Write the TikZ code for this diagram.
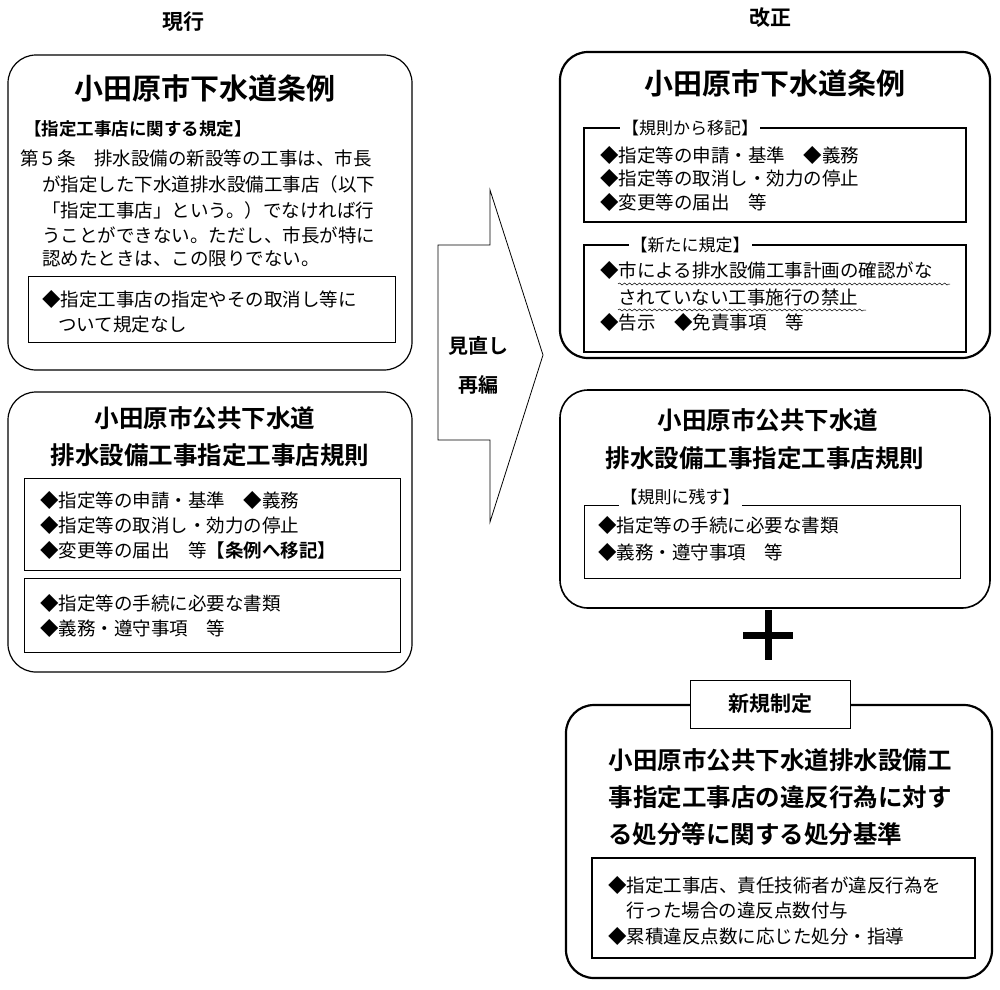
\documentclass[tikz,border=0pt]{standalone}
\usepackage{fontspec}
\setmainfont{Noto Sans CJK JP}
\newfontfamily\jpb{Noto Sans CJK JP Bold}
\usetikzlibrary{decorations.pathmorphing}
\tikzset{
 bigbox/.style={draw,rounded corners=28pt,line width=1.2pt},
 bigboxb/.style={draw,rounded corners=28pt,line width=2.2pt},
 ibox/.style={draw,line width=0.8pt},
 iboxb/.style={draw,line width=2pt},
 ttl/.style={font=\fontsize{29}{32}\selectfont\jpb,inner sep=0},
 ttl2/.style={font=\fontsize{24.5}{28}\selectfont\jpb,inner sep=0},
 txt/.style={font=\fontsize{18.5}{21}\selectfont,anchor=west,inner sep=0},
 lbl/.style={font=\fontsize{17}{20}\selectfont,fill=white,inner sep=2pt},
 hd/.style={font=\fontsize{21}{24}\selectfont\jpb,inner sep=0},
}
\begin{document}
\begin{tikzpicture}[x=1pt,y=-1pt]
\useasboundingbox (0,0) rectangle (1000,989);
\node[hd] (h1) at (183,22) {現行};
\node[hd] (h2) at (770,18) {改正};
% left box 1
\draw[bigbox] (8,55) rectangle (412,370);
\node[ttl] (t1) at (205,88) {小田原市下水道条例};
\node[txt,font=\fontsize{17.5}{20}\selectfont\jpb] at (24,129) {【指定工事店に関する規定】};
\node[txt] at (20,158) {第５条　排水設備の新設等の工事は、市長};
\node[txt] at (42,184) {が指定した下水道排水設備工事店（以下};
\node[txt] at (42,210) {「指定工事店」という。）でなければ行};
\node[txt] at (42,235) {うことができない。ただし、市長が特に};
\node[txt] at (42,259) {認めたときは、この限りでない。};
\draw[ibox] (28,276) rectangle (395,342);
\node[txt] at (42,299) {◆指定工事店の指定やその取消し等に};
\node[txt] at (58,325) {ついて規定なし};
% left box 2
\draw[bigbox] (8,392) rectangle (412,672);
\node[ttl2] at (205,418) {小田原市公共下水道};
\node[ttl2] at (210,455) {排水設備工事指定工事店規則};
\draw[ibox] (24,478) rectangle (400,570);
\node[txt] at (40,500) {◆指定等の申請・基準　◆義務};
\node[txt] at (40,525) {◆指定等の取消し・効力の停止};
\node[txt] at (40,550) {◆変更等の届出　等{\jpb【条例へ移記】}};
\draw[ibox] (24,578) rectangle (400,652);
\node[txt] at (40,603) {◆指定等の手続に必要な書類};
\node[txt] at (40,628) {◆義務・遵守事項　等};
% arrow
\draw[line width=0.8pt] (438,245) -- (490,245) -- (490,190) -- (543,355) -- (490,522) -- (490,440) -- (438,440) -- cycle;
\node[font=\fontsize{20}{24}\selectfont\jpb] at (478,346) {見直し};
\node[font=\fontsize{20}{24}\selectfont\jpb] at (478,385) {再編};
% right box 1
\draw[bigboxb] (560,52) rectangle (990,358);
\node[ttl] at (775,83) {小田原市下水道条例};
\draw[iboxb] (584,128) rectangle (966,222);
\node[lbl] at (690,128) {【規則から移記】};
\node[txt] at (600,155) {◆指定等の申請・基準　◆義務};
\node[txt] at (600,178) {◆指定等の取消し・効力の停止};
\node[txt] at (600,202) {◆変更等の届出　等};
\draw[iboxb] (584,245) rectangle (966,352);
\node[lbl] at (690,245) {【新たに規定】};
\node[txt] at (600,270) {◆市による排水設備工事計画の確認がな};
\node[txt] at (618,297) {されていない工事施行の禁止};
\draw[decorate,decoration={snake,amplitude=1pt,segment length=5pt},line width=0.5pt] (618,284) -- (950,284);
\draw[decorate,decoration={snake,amplitude=1pt,segment length=5pt},line width=0.5pt] (618,310) -- (866,310);
\node[txt] at (600,322) {◆告示　◆免責事項　等};
% right box 2
\draw[bigboxb,line width=1.6pt] (560,390) rectangle (990,608);
\node[ttl2] at (768,420) {小田原市公共下水道};
\node[ttl2] at (765,458) {排水設備工事指定工事店規則};
\draw[ibox] (584,505) rectangle (960,578);
\node[lbl] at (680,497) {【規則に残す】};
\node[txt] at (598,525) {◆指定等の手続に必要な書類};
\node[txt] at (598,552) {◆義務・遵守事項　等};
% plus
\draw[line width=7pt] (743,635) -- (793,635) (768,610) -- (768,660);
% right box 3
\draw[bigboxb] (566,705) rectangle (992,978);
\node[draw,fill=white,line width=0.8pt,minimum width=160pt,minimum height=48pt,font=\fontsize{21}{24}\selectfont\jpb] (nk) at (770,704) {新規制定};
\node[ttl2] at (780,760) {小田原市公共下水道排水設備工};
\node[ttl2] at (780,797) {事指定工事店の違反行為に対す};
\node[ttl2] at (755,834) {る処分等に関する処分基準};
\draw[iboxb] (592,858) rectangle (975,958);
\node[txt] at (608,885) {◆指定工事店、責任技術者が違反行為を};
\node[txt] at (626,910) {行った場合の違反点数付与};
\node[txt] at (608,936) {◆累積違反点数に応じた処分・指導};
\end{tikzpicture}
\end{document}
